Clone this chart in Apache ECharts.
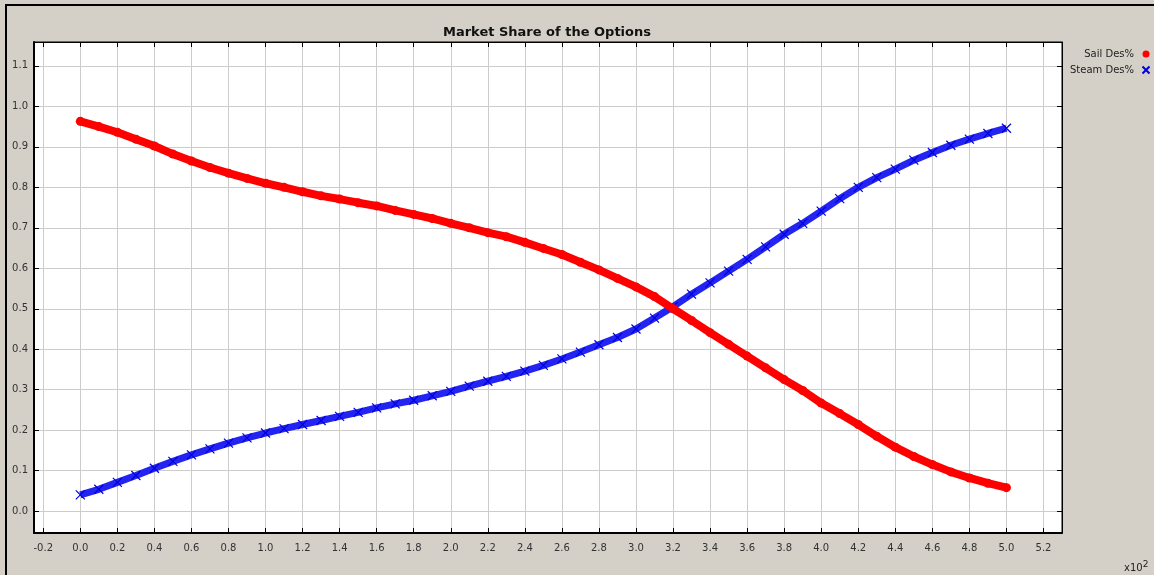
<!DOCTYPE html>
<html>
<head>
<meta charset="utf-8">
<script src="https://cdn.jsdelivr.net/npm/echarts@6/dist/echarts.min.js"></script>
<style>
html,body{margin:0;padding:0;background:#d4d0c8;}
#chart{width:1154px;height:575px;}
</style>
</head>
<body>
<div id="chart"></div>
<script>
// x values in units of x10^2
var xValues = [0.0,0.1,0.2,0.3,0.4,0.5,0.6,0.7,0.8,0.9,
  1.0,1.1,1.2,1.3,1.4,1.5,1.6,1.7,1.8,1.9,
  2.0,2.1,2.2,2.3,2.4,2.5,2.6,2.7,2.8,2.9,
  3.0,3.1,3.2,3.3,3.4,3.5,3.6,3.7,3.8,3.9,
  4.0,4.1,4.2,4.3,4.4,4.5,4.6,4.7,4.8,4.9,5.0];
var sailDes = [0.963,0.950,0.936,0.919,0.902,0.882,0.865,0.849,0.835,0.822,
  0.810,0.800,0.789,0.779,0.771,0.762,0.754,0.743,0.733,0.723,
  0.711,0.700,0.688,0.678,0.664,0.649,0.634,0.615,0.596,0.575,
  0.554,0.530,0.500,0.471,0.441,0.412,0.383,0.354,0.325,0.298,
  0.267,0.241,0.214,0.185,0.158,0.135,0.115,0.097,0.082,0.069,0.058];
var steamDes = [0.040,0.054,0.071,0.088,0.106,0.123,0.139,0.154,0.168,0.181,
  0.193,0.204,0.214,0.224,0.234,0.244,0.255,0.265,0.274,0.285,
  0.296,0.309,0.321,0.333,0.346,0.360,0.376,0.393,0.411,0.429,
  0.450,0.477,0.505,0.536,0.564,0.593,0.622,0.653,0.684,0.711,
  0.741,0.772,0.800,0.824,0.845,0.867,0.886,0.904,0.919,0.933,0.946];
var xTicks = [-0.2,0.0,0.2,0.4,0.6,0.8,1.0,1.2,1.4,1.6,1.8,2.0,2.2,2.4,2.6,2.8,3.0,3.2,3.4,3.6,3.8,4.0,4.2,4.4,4.6,4.8,5.0,5.2];
var yTicks = [0.0,0.1,0.2,0.3,0.4,0.5,0.6,0.7,0.8,0.9,1.0,1.1];
var seriesNames = ['Sail Des%','Steam Des%'];
var titleText = 'Market Share of the Options';

var X_PATH = 'path://M0,0L10,10M10,0L0,10';
var FONT = 'DejaVu Sans';

function pairs(ys){ return xValues.map(function(x,i){ return [x, ys[i]]; }); }
function fmt(v){ return (Math.round(v*10)/10).toFixed(1); }

var chart = echarts.init(document.getElementById('chart'));
var baseX = {
  type:'value', min:-0.25, max:5.30,
  axisLine:{show:true, onZero:false, lineStyle:{color:'#000', width:1}},
  axisTick:{show:true, inside:true, length:5, customValues:xTicks, lineStyle:{color:'#000'}},
  splitLine:{show:false}
};
var baseY = {
  type:'value', min:-0.054, max:1.159,
  axisLine:{show:true, onZero:false, lineStyle:{color:'#000', width:1}},
  axisTick:{show:true, inside:true, length:5, customValues:yTicks, lineStyle:{color:'#000'}},
  splitLine:{show:false}
};
chart.setOption({
  backgroundColor:'#d4d0c8',
  animation:false,
  title:{text:titleText, left:542, top:21, textAlign:'center',
    textStyle:{fontFamily:FONT, fontWeight:'bold', fontSize:13, color:'#111'}},
  legend:{orient:'vertical', right:2, top:49, padding:0, align:'right', itemGap:5, itemWidth:14, itemHeight:7,
    textStyle:{fontFamily:FONT, fontSize:10, color:'#222'},
    data:[{name:seriesNames[0], icon:'circle'},{name:seriesNames[1], icon:X_PATH}]},
  grid:{left:34, top:42, width:1028, height:491, show:true, backgroundColor:'#fff', borderColor:'#000', borderWidth:1},
  xAxis:[
    Object.assign({}, baseX, {position:'bottom',
      axisLine:{show:true, onZero:false, lineStyle:{color:'#000', width:2}},
      axisLabel:{show:true, customValues:xTicks, margin:10, formatter:fmt, fontFamily:FONT, fontSize:10, color:'#333'},
      splitLine:{show:true, lineStyle:{color:'#cccccc', width:1}}}),
    Object.assign({}, baseX, {position:'top', axisLabel:{show:false}})
  ],
  yAxis:[
    Object.assign({}, baseY, {position:'left',
      axisLine:{show:true, onZero:false, lineStyle:{color:'#000', width:2}},
      axisLabel:{show:true, customValues:yTicks, margin:6, formatter:fmt, fontFamily:FONT, fontSize:10, color:'#333'},
      splitLine:{show:true, lineStyle:{color:'#cccccc', width:1}}}),
    Object.assign({}, baseY, {position:'right', axisLabel:{show:false}})
  ],
  graphic:[
    {type:'rect', shape:{x:6, y:5, width:1160, height:580}, style:{fill:'none', stroke:'#000', lineWidth:2}, silent:true},
    {type:'text', left:1124, top:560, style:{text:'x10{s|2}', fontFamily:FONT, fontSize:10, fill:'#222',
      rich:{s:{fontFamily:FONT, fontSize:9, verticalAlign:'top', padding:[0,0,8,0], fill:'#222'}}}}
  ],
  series:[
    {name:seriesNames[0], type:'line', data:pairs(sailDes), symbol:'circle', symbolSize:9, showSymbol:true,
      lineStyle:{color:'#ff0000', width:8}, itemStyle:{color:'#ff0000'}, z:3},
    {name:seriesNames[1], type:'line', data:pairs(steamDes), symbol:X_PATH, symbolSize:9, showSymbol:true,
      lineStyle:{color:'#2424f2', width:7}, itemStyle:{color:'none', borderColor:'#0000dd', borderWidth:1.2}, z:2}
  ]
});
</script>
</body>
</html>
